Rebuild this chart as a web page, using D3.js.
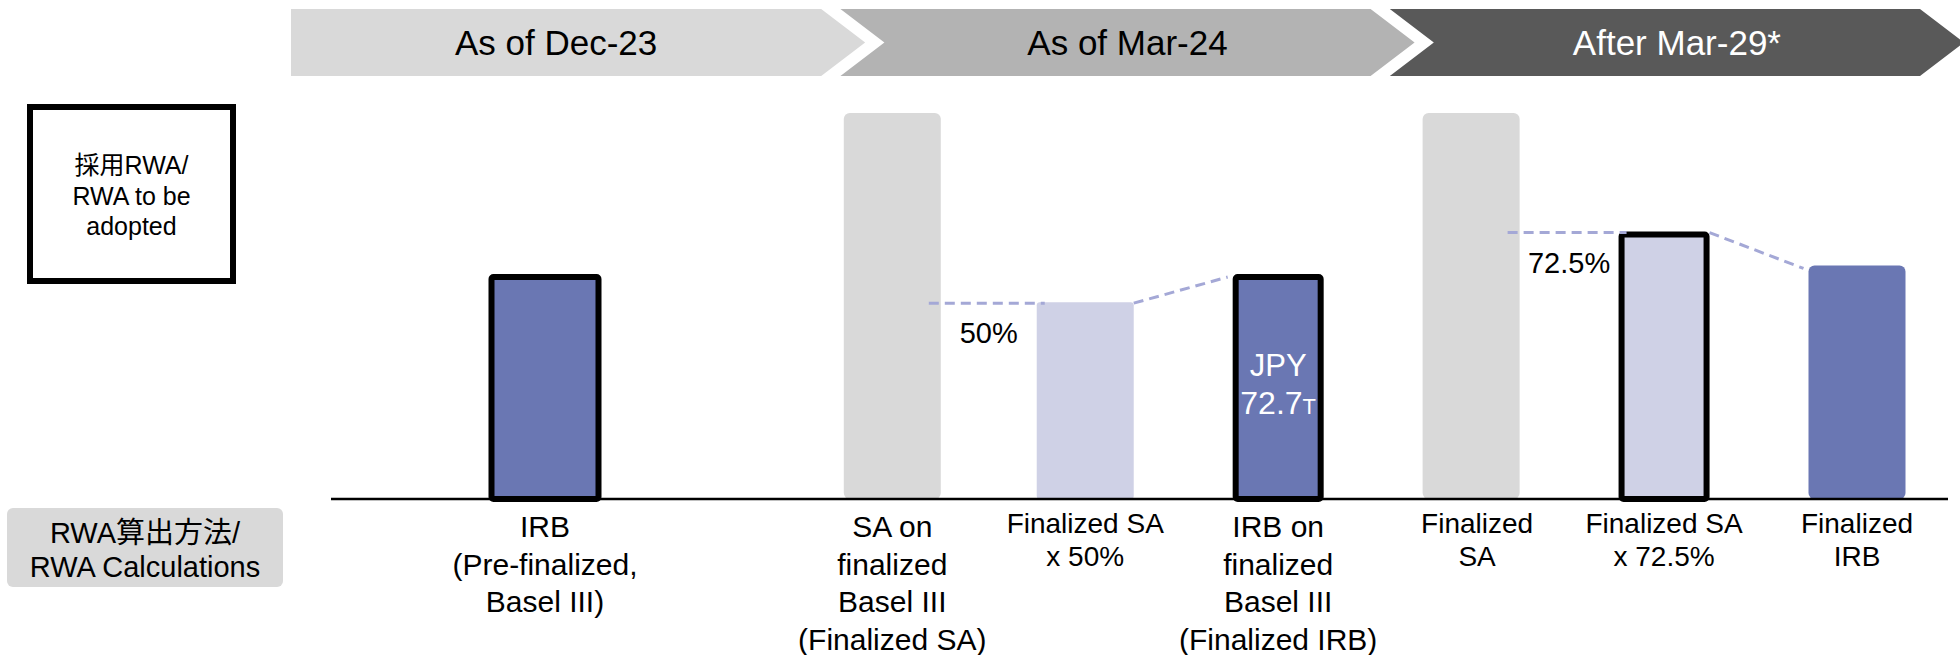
<!DOCTYPE html>
<html>
<head>
<meta charset="utf-8">
<script src="https://cdn.jsdelivr.net/npm/d3@7"></script>
<style>
  html, body { margin: 0; padding: 0; background: #fff; }
  text { font-family: "Liberation Sans", Arial, "Noto Sans CJK JP", sans-serif; }
</style>
</head>
<body>
<div id="chart"></div>
<script>
'use strict';

// time periods shown in the chevron header
const periods = ["As of Dec-23", "As of Mar-24", "After Mar-29*"];

// one entry per bar, left to right
const categoryLabels = [
  ["IRB", "(Pre-finalized,", "Basel III)"],
  ["SA on", "finalized", "Basel III", "(Finalized SA)"],
  ["Finalized SA", "x 50%"],
  ["IRB on", "finalized", "Basel III", "(Finalized IRB)"],
  ["Finalized", "SA"],
  ["Finalized SA", "x 72.5%"],
  ["Finalized", "IRB"]
];
// RWA level (index, finalized SA = 100)
const rwaValues = [57.5, 100, 51, 57.5, 100, 68.5, 60.5];
const barKind = ["irb", "sa", "floor", "irb", "sa", "floor", "irb"];
const adopted = [true, false, false, true, false, true, false];

// output floor connectors: from SA bar to the floor bar, then on to the IRB bar
const floorLinks = [
  { sa: 1, floor: 2, irb: 3, rate: "50%" },
  { sa: 4, floor: 5, irb: 6, rate: "72.5%" }
];
const barNotes = [null, null, null, ["JPY", "72.7", "T"], null, null, null];

const legendTop = ["採用RWA/", "RWA to be", "adopted"];
const legendBottom = ["RWA算出方法/", "RWA Calculations"];

const W = 1960, H = 655;
const colors = {
  irb: "#6a77b3",
  sa: "#d9d9d9",
  floor: "#cfd1e6",
  dash: "#a4a8d6",
  banners: ["#d9d9d9", "#b3b3b3", "#595959"],
  bannerText: ["#000", "#000", "#fff"]
};

const svg = d3.select("#chart").append("svg")
  .attr("width", W)
  .attr("height", H);

// ---- chevron header ----
const bannerTop = 9, bannerBottom = 76, depth = 44;
const bannerScale = d3.scaleBand()
  .domain(periods)
  .range([291, 1920])
  .paddingInner(0.035);
const mid = (bannerTop + bannerBottom) / 2;

const banners = svg.append("g").attr("class", "banners");
periods.forEach(function (p, i) {
  const x0 = bannerScale(p);
  const x1 = x0 + bannerScale.bandwidth();
  const pts = [
    [x0, bannerTop], [x1, bannerTop], [x1 + depth, mid],
    [x1, bannerBottom], [x0, bannerBottom]
  ];
  if (i > 0) pts.push([x0 + depth, mid]);
  banners.append("polygon")
    .attr("points", pts.map(d => d.join(",")).join(" "))
    .attr("fill", colors.banners[i]);
  const cx = (x0 + x1) / 2 + (i > 0 ? depth / 2 : 0);
  banners.append("text")
    .attr("x", cx)
    .attr("y", 55)
    .attr("text-anchor", "middle")
    .attr("font-size", 35)
    .attr("fill", colors.bannerText[i])
    .text(p);
});

// ---- scales ----
const slot = i => i === 0 ? 0 : i + 0.8;
const xScale = d3.scaleLinear()
  .domain([0, 6.8])
  .range([545, 1857]);
const yScale = d3.scaleLinear()
  .domain([0, 100])
  .range([499, 113]);

const barWidth = function (i) {
  if (i === 0) return 107;
  if (adopted[i]) return 85;
  return 97;
};
const strokeW = 6;

const chart = svg.append("g").attr("class", "bars");

chart.selectAll(".bar")
  .data(rwaValues)
  .enter().append("rect")
    .attr("class", "bar")
    .attr("x", (d, i) => xScale(slot(i)) - barWidth(i) / 2)
    .attr("y", d => yScale(d))
    .attr("width", (d, i) => barWidth(i))
    .attr("height", d => yScale(0) - yScale(d))
    .attr("rx", (d, i) => adopted[i] ? 2 : (barKind[i] === "floor" ? 3 : 6))
    .attr("fill", (d, i) => colors[barKind[i]])
    .attr("stroke", (d, i) => adopted[i] ? "#000" : "none")
    .attr("stroke-width", strokeW)
    .attr("stroke-linejoin", "round");

// ---- floor connectors ----
const topOf = i => yScale(rwaValues[i]) - (adopted[i] ? strokeW / 2 : 0);
const leftOf = i => xScale(slot(i)) - barWidth(i) / 2 - (adopted[i] ? strokeW / 2 : 0);
const rightOf = i => xScale(slot(i)) + barWidth(i) / 2 + (adopted[i] ? strokeW / 2 : 0);

const links = svg.append("g").attr("class", "links");
floorLinks.forEach(function (l) {
  const yf = topOf(l.floor) + 1;
  links.append("line")
    .attr("x1", rightOf(l.sa) - 12)
    .attr("x2", leftOf(l.floor) + 8)
    .attr("y1", yf)
    .attr("y2", yf)
    .attr("stroke", colors.dash)
    .attr("stroke-width", 3)
    .attr("stroke-dasharray", "10,6");
  links.append("line")
    .attr("x1", rightOf(l.floor))
    .attr("x2", leftOf(l.irb) - 5)
    .attr("y1", yf)
    .attr("y2", topOf(l.irb) + 3)
    .attr("stroke", colors.dash)
    .attr("stroke-width", 3)
    .attr("stroke-dasharray", "10,6");
  links.append("text")
    .attr("x", (rightOf(l.sa) + leftOf(l.floor)) / 2)
    .attr("y", yf + 40)
    .attr("text-anchor", "middle")
    .attr("font-size", 29)
    .attr("fill", "#000")
    .text(l.rate);
});

// ---- value note inside bar ----
barNotes.forEach(function (n, i) {
  if (!n) return;
  const cx = xScale(slot(i));
  const top = yScale(rwaValues[i]);
  svg.append("text")
    .attr("x", cx)
    .attr("y", top + 99)
    .attr("text-anchor", "middle")
    .attr("font-size", 31)
    .attr("fill", "#fff")
    .text(n[0]);
  const t = svg.append("text")
    .attr("x", cx)
    .attr("y", top + 137)
    .attr("text-anchor", "middle")
    .attr("font-size", 32)
    .attr("fill", "#fff");
  t.append("tspan").text(n[1]);
  t.append("tspan").attr("font-size", 22).text(n[2]);
});

// ---- baseline ----
svg.append("line")
  .attr("x1", 331)
  .attr("x2", 1948)
  .attr("y1", yScale(0))
  .attr("y2", yScale(0))
  .attr("stroke", "#000")
  .attr("stroke-width", 2.5);

// ---- category labels ----
const labels = svg.append("g").attr("class", "labels");
categoryLabels.forEach(function (lines, i) {
  const long = lines.length > 2 || i === 0;
  const size = long ? 30 : 28;
  const lh = long ? 37.5 : 32.5;
  const y0 = long ? 537 : 533;
  const t = labels.append("text")
    .attr("text-anchor", "middle")
    .attr("font-size", size)
    .attr("fill", "#000");
  lines.forEach(function (s, k) {
    t.append("tspan")
      .attr("x", xScale(slot(i)) + (i === 4 ? 6 : 0))
      .attr("y", y0 + k * lh)
      .text(s);
  });
});

// ---- row legends on the left ----
svg.append("rect")
  .attr("x", 30).attr("y", 107)
  .attr("width", 203).attr("height", 174)
  .attr("fill", "#fff")
  .attr("stroke", "#000")
  .attr("stroke-width", 6);
const lt = svg.append("text")
  .attr("text-anchor", "middle")
  .attr("font-size", 25)
  .attr("fill", "#000");
legendTop.forEach(function (s, k) {
  lt.append("tspan").attr("x", 131.5).attr("y", 174 + k * 30.5).text(s);
});

svg.append("rect")
  .attr("x", 7).attr("y", 508)
  .attr("width", 276).attr("height", 79)
  .attr("rx", 6)
  .attr("fill", "#d9d9d9");
const lb = svg.append("text")
  .attr("text-anchor", "middle")
  .attr("font-size", 29)
  .attr("fill", "#000");
legendBottom.forEach(function (s, k) {
  lb.append("tspan").attr("x", 145).attr("y", 543 + k * 34).text(s);
});
</script>
</body>
</html>
